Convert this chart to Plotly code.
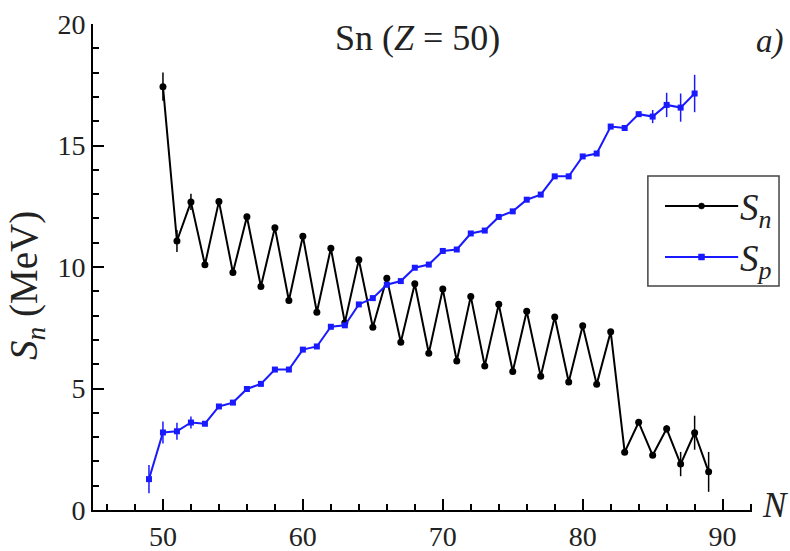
import plotly.graph_objects as go

# Neutron separation energies S_n for Sn isotopes (N = 50..89), MeV
n_neutron = list(range(50, 90))
s_n = [17.42, 11.07, 12.68, 10.09, 12.70, 9.77, 12.07, 9.20, 11.62, 8.62,
       11.27, 8.14, 10.77, 7.71, 10.30, 7.52, 9.54, 6.90, 9.31, 6.45,
       9.09, 6.13, 8.79, 5.93, 8.47, 5.70, 8.18, 5.50, 7.94, 5.27,
       7.58, 5.17, 7.34, 2.38, 3.61, 2.25, 3.34, 1.89, 3.18, 1.57]
s_n_err = [0.58, 0.45, 0.33, 0, 0, 0, 0, 0, 0, 0,
           0, 0, 0, 0, 0, 0, 0, 0, 0, 0,
           0, 0, 0, 0, 0, 0, 0, 0, 0, 0,
           0, 0, 0, 0, 0, 0, 0.15, 0.5, 0.7, 0.82]

# Proton separation energies S_p (N = 49..88), MeV
n_proton = list(range(49, 89))
s_p = [1.27, 3.19, 3.24, 3.60, 3.55, 4.26, 4.42, 4.98, 5.19, 5.78,
       5.78, 6.60, 6.73, 7.54, 7.60, 8.46, 8.72, 9.27, 9.42, 9.97,
       10.10, 10.66, 10.72, 11.38, 11.50, 12.06, 12.29, 12.77, 12.98, 13.73,
       13.73, 14.55, 14.67, 15.78, 15.72, 16.29, 16.19, 16.67, 16.56, 17.14]
s_p_err = [0.58, 0.45, 0.35, 0.25, 0, 0, 0, 0, 0, 0,
           0, 0, 0, 0, 0, 0, 0, 0, 0, 0,
           0, 0, 0, 0, 0, 0, 0, 0, 0, 0,
           0, 0, 0, 0, 0, 0, 0.27, 0.5, 0.58, 0.77]

x_ticks = [50, 60, 70, 80, 90]
y_ticks = [0, 5, 10, 15, 20]

SERIF = "Liberation Serif"
BLUE = "#1a1aff"

fig = go.Figure()
fig.add_trace(go.Scatter(
    x=n_neutron, y=s_n, mode="lines+markers", name="S_n",
    line=dict(color="black", width=2),
    marker=dict(symbol="circle", size=7, color="black"),
    error_y=dict(type="data", array=s_n_err, visible=True, width=0,
                 thickness=1.5, color="black"),
))
fig.add_trace(go.Scatter(
    x=n_proton, y=s_p, mode="lines+markers", name="S_p",
    line=dict(color=BLUE, width=2),
    marker=dict(symbol="square", size=6, color=BLUE),
    error_y=dict(type="data", array=s_p_err, visible=True, width=0,
                 thickness=1.5, color=BLUE),
))

axis_common = dict(
    showline=True, linewidth=2, linecolor="black", mirror=False,
    ticks="inside", ticklen=11, tickwidth=1.5, tickcolor="black",
    showgrid=False, zeroline=False, automargin=False,
    tickfont=dict(family=SERIF, size=28, color="#222"),
)
fig.update_xaxes(range=[45, 92.1], tickvals=x_ticks,
                 minor=dict(ticks="inside", ticklen=6, tickwidth=1.5,
                            tickcolor="black", dtick=2, tick0=0),
                 **axis_common)
fig.update_yaxes(range=[0, 20], tickvals=y_ticks,
                 minor=dict(ticks="inside", ticklen=6, tickwidth=1.5,
                            tickcolor="black", dtick=1, tick0=0),
                 **axis_common)

# Hand-drawn legend box with the two series keys
lx0, lx1, ly0, ly1 = 0.842, 1.041, 0.461, 0.687
shapes = [dict(type="rect", xref="paper", yref="paper",
               x0=lx0, x1=lx1, y0=ly0, y1=ly1,
               line=dict(color="#444", width=1.5), fillcolor="white")]
legend_rows = [(0.6255, "black", "circle", "<i>S</i><sub><i>n</i></sub>"),
               (0.5206, BLUE, "rect", "<i>S</i><sub><i>p</i></sub>")]
annotations = []
for yy, col, kind, label in legend_rows:
    shapes.append(dict(type="line", xref="paper", yref="paper",
                       x0=0.868, x1=0.979, y0=yy, y1=yy,
                       line=dict(color=col, width=2)))
    shapes.append(dict(type=kind, xref="paper", yref="paper",
                       xsizemode="pixel", ysizemode="pixel",
                       xanchor=0.9234, yanchor=yy,
                       x0=-3, x1=3, y0=-3, y1=3,
                       fillcolor=col, line=dict(color=col, width=0.5)))
    annotations.append(dict(xref="paper", yref="paper", x=0.979, y=yy - 0.01,
                            xanchor="left", yanchor="middle", text=label,
                            showarrow=False,
                            font=dict(family=SERIF, size=37, color="#222")))

annotations += [
    dict(xref="paper", yref="paper", x=0.492, y=0.972, text="Sn (<i>Z</i> = 50)",
         showarrow=False, xanchor="center", yanchor="middle",
         font=dict(family=SERIF, size=36, color="#222")),
    dict(xref="paper", yref="paper", x=1.027, y=0.965, text="<i>a)</i>",
         showarrow=False, xanchor="center", yanchor="middle",
         font=dict(family=SERIF, size=33, color="#222")),
    dict(xref="paper", yref="paper", x=1.035, y=0.01, text="<i>N</i>",
         showarrow=False, xanchor="center", yanchor="middle",
         font=dict(family=SERIF, size=35, color="#222")),
    dict(xref="paper", yref="paper", x=-0.101, y=0.462,
         text="<i>S</i><sub><i>n</i></sub> (MeV)", textangle=-90,
         showarrow=False, xanchor="center", yanchor="middle",
         font=dict(family=SERIF, size=39, color="#222")),
]

fig.update_layout(
    width=790, height=551,
    margin=dict(l=93, r=38, t=24, b=41),
    paper_bgcolor="white", plot_bgcolor="white",
    showlegend=False,
    shapes=shapes, annotations=annotations,
)

fig.write_html("out.html")
